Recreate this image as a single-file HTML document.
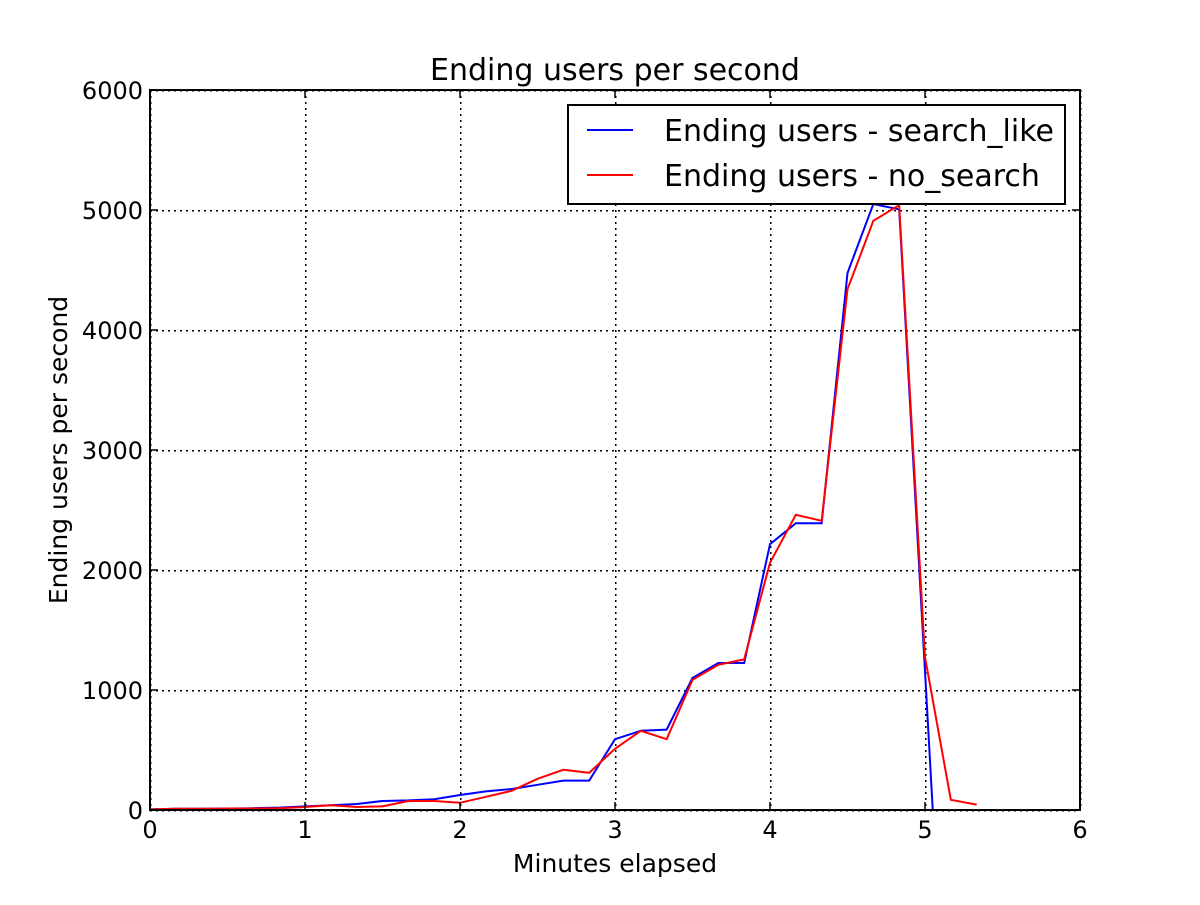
<!DOCTYPE html>
<html><head><meta charset="utf-8"><style>
body{margin:0;background:#fff;}
svg text{font-family:"DejaVu Sans","Liberation Sans",sans-serif;fill:#000;}
</style></head><body>
<svg id="chart" width="1200" height="900" viewBox="0 0 1200 900" xmlns="http://www.w3.org/2000/svg">
<rect x="0" y="0" width="1200" height="900" fill="#fff"/>
<g id="grid" shape-rendering="crispEdges"></g>
<g id="series"></g>
<rect x="150" y="90" width="930" height="720" fill="none" stroke="#000" stroke-width="2"/>
<g id="ticks"></g>
<text x="615" y="80" font-size="30" text-anchor="middle">Ending users per second</text>
<text x="615" y="872" font-size="25" text-anchor="middle">Minutes elapsed</text>
<text transform="translate(67,450) rotate(-90)" font-size="25" text-anchor="middle">Ending users per second</text>
<g>
<rect x="568" y="105" width="497" height="99" fill="#fff" stroke="#000" stroke-width="2"/>
<line x1="587" y1="130" x2="633" y2="130" stroke="#0000ff" stroke-width="2"/>
<text x="664" y="141" font-size="30">Ending users - search_like</text>
<line x1="587" y1="175" x2="633" y2="175" stroke="#ff0000" stroke-width="2"/>
<text x="664" y="186" font-size="30">Ending users - no_search</text>
</g>
</svg>
<script>
const xTicks=[0,1,2,3,4,5,6];
const yTicks=[0,1000,2000,3000,4000,5000,6000];
const searchX=[0,1/6,2/6,3/6,4/6,5/6,1,7/6,8/6,9/6,10/6,11/6,2,13/6,14/6,15/6,16/6,17/6,3,19/6,20/6,21/6,22/6,23/6,4,25/6,26/6,27/6,28/6,29/6,5.05];
const searchY=[5,10,10,12,15,20,30,40,50,75,80,90,125,155,175,210,245,245,590,660,670,1100,1225,1225,2215,2390,2390,4475,5050,5005,0];
const noSearchX=[0,1/6,2/6,3/6,4/6,5/6,1,7/6,8/6,9/6,10/6,11/6,2,13/6,14/6,15/6,16/6,17/6,3,19/6,20/6,21/6,22/6,23/6,4,25/6,26/6,27/6,28/6,29/6,5,31/6,32/6];
const noSearchY=[5,10,10,12,12,15,25,40,25,30,75,75,60,110,160,260,335,310,510,660,590,1085,1210,1255,2060,2460,2410,4340,4910,5040,1275,85,45];
const NS="http://www.w3.org/2000/svg";
const xs=v=>150+v/6*930, ys=v=>810-v/6000*720;
const grid=document.getElementById('grid'),ticks=document.getElementById('ticks'),series=document.getElementById('series');
function mk(tag,attrs,parent){const e=document.createElementNS(NS,tag);for(const k in attrs)e.setAttribute(k,attrs[k]);parent.appendChild(e);return e;}
xTicks.forEach(t=>{
  const g=mk('line',{x1:xs(t)+0.5,x2:xs(t)+0.5,y1:90,y2:810,stroke:'#000','stroke-width':1.5,'stroke-dasharray':'2,4'},grid);
  
  
  mk('line',{x1:xs(t),x2:xs(t),y1:810,y2:802,stroke:'#000','stroke-width':1.5},ticks);
  mk('line',{x1:xs(t),x2:xs(t),y1:90,y2:98,stroke:'#000','stroke-width':1.5},ticks);
  const l=mk('text',{x:xs(t),y:838,'font-size':24,'text-anchor':'middle'},ticks);l.textContent=t;
  
  
});
yTicks.forEach(t=>{
  const g=mk('line',{x1:150,x2:1080,y1:ys(t)+0.5,y2:ys(t)+0.5,stroke:'#000','stroke-width':1.5,'stroke-dasharray':'2,4'},grid);
  
  
  mk('line',{x1:150,x2:158,y1:ys(t),y2:ys(t),stroke:'#000','stroke-width':1.5},ticks);
  mk('line',{x1:1080,x2:1072,y1:ys(t),y2:ys(t),stroke:'#000','stroke-width':1.5},ticks);
  const l=mk('text',{x:143,y:ys(t)+9,'font-size':24,'text-anchor':'end'},ticks);l.textContent=t;
  
  
});
function line(X,Y,color,name){
  const p=mk('polyline',{points:X.map((x,i)=>xs(x)+','+ys(Y[i])).join(' '),fill:'none',stroke:color,'stroke-width':2},series);
  
  
}
line(searchX,searchY,'#0000ff','series-search-like');
line(noSearchX,noSearchY,'#ff0000','series-no-search');
</script>
</body></html>
